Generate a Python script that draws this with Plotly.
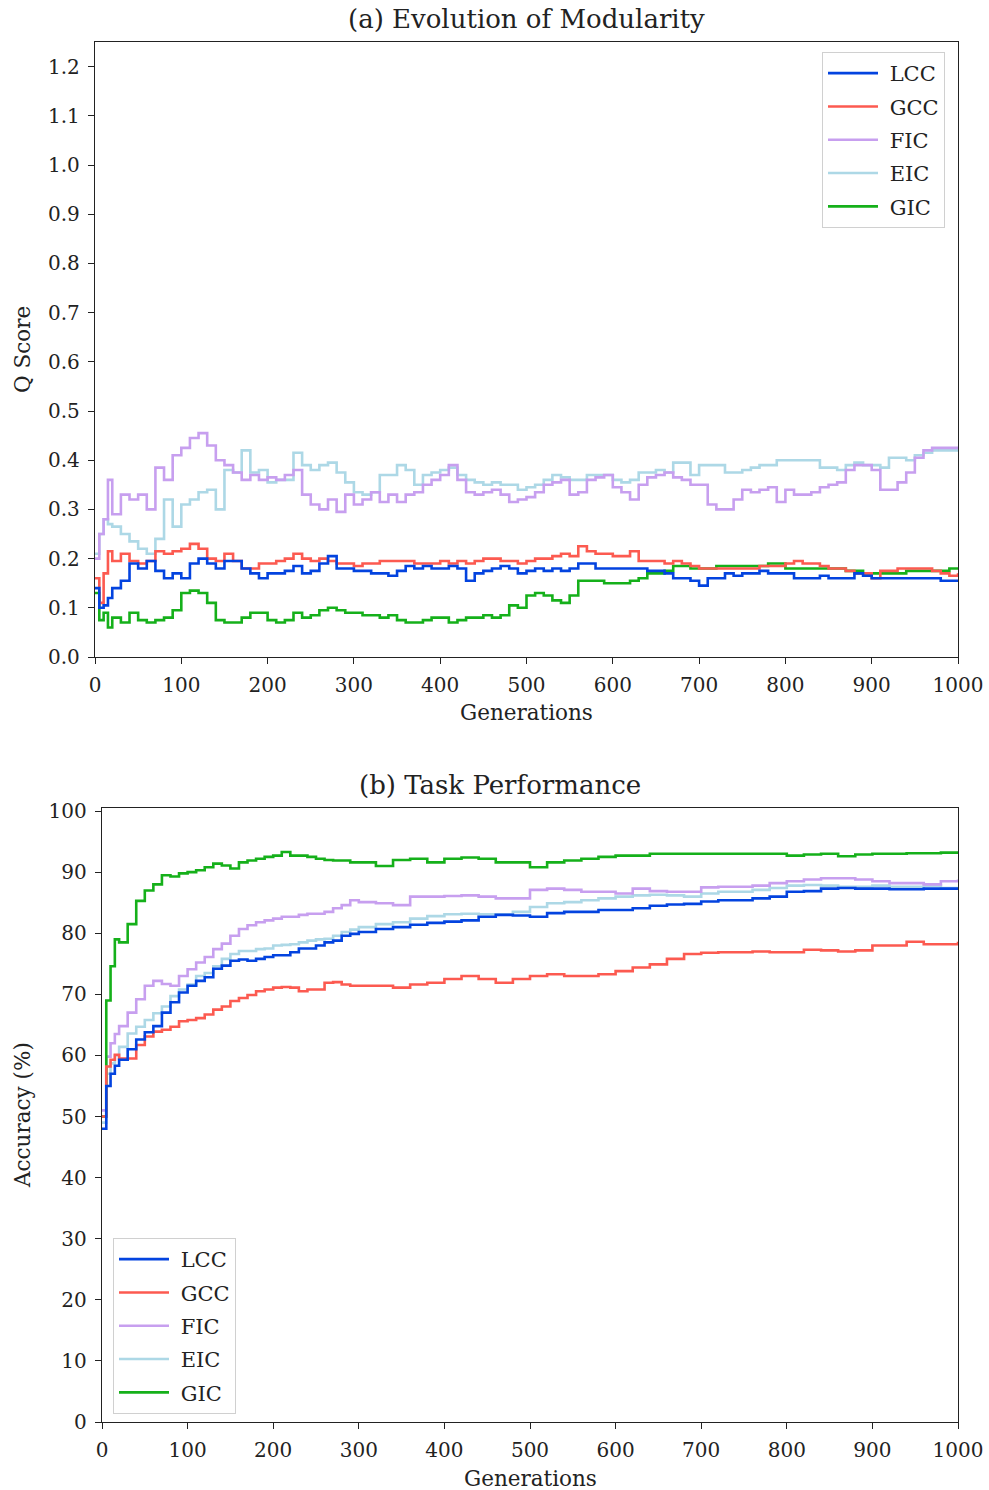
import plotly.graph_objects as go

# Generations sampled for each panel
GEN_A = [0, 5, 10, 15, 20] + list(range(30, 1001, 10))
GEN_B = [0, 5, 10, 15, 20] + list(range(30, 301, 10)) + list(range(320, 1001, 20))

# (a) Modularity Q score per method
LCC_A = [0.14, 0.10, 0.105, 0.12, 0.14,
         0.155, 0.19, 0.18, 0.195, 0.175, 0.16, 0.17, 0.16, 0.19, 0.20,
         0.19, 0.18, 0.195, 0.195, 0.18, 0.17, 0.16, 0.17, 0.17, 0.175,
         0.185, 0.17, 0.175, 0.19, 0.205, 0.18, 0.18, 0.175, 0.175, 0.17,
         0.17, 0.165, 0.175, 0.185, 0.18, 0.185, 0.18, 0.18, 0.185, 0.18,
         0.155, 0.17, 0.175, 0.18, 0.185, 0.18, 0.17, 0.175, 0.18, 0.175,
         0.18, 0.175, 0.18, 0.19, 0.19, 0.18, 0.18, 0.18, 0.18, 0.18,
         0.18, 0.175, 0.175, 0.17, 0.16, 0.16, 0.155, 0.145, 0.16, 0.16,
         0.17, 0.165, 0.17, 0.17, 0.175, 0.17, 0.17, 0.17, 0.16, 0.16,
         0.16, 0.165, 0.16, 0.16, 0.16, 0.17, 0.165, 0.16, 0.16, 0.16,
         0.16, 0.16, 0.16, 0.16, 0.16, 0.155, 0.155, 0.155]
GCC_A = [0.16, 0.11, 0.17, 0.215, 0.195,
         0.21, 0.195, 0.19, 0.195, 0.215, 0.21, 0.215, 0.22, 0.23, 0.22,
         0.20, 0.195, 0.21, 0.195, 0.18, 0.18, 0.19, 0.19, 0.195, 0.20,
         0.21, 0.20, 0.195, 0.20, 0.195, 0.19, 0.19, 0.185, 0.19, 0.19,
         0.195, 0.195, 0.195, 0.195, 0.19, 0.19, 0.19, 0.195, 0.19, 0.195,
         0.19, 0.195, 0.20, 0.20, 0.195, 0.195, 0.19, 0.195, 0.20, 0.20,
         0.205, 0.21, 0.205, 0.225, 0.215, 0.21, 0.21, 0.205, 0.205, 0.215,
         0.195, 0.195, 0.195, 0.19, 0.195, 0.19, 0.185, 0.18, 0.18, 0.18,
         0.18, 0.18, 0.18, 0.18, 0.185, 0.185, 0.185, 0.19, 0.195, 0.19,
         0.19, 0.185, 0.18, 0.18, 0.175, 0.17, 0.17, 0.16, 0.175, 0.175,
         0.18, 0.18, 0.18, 0.18, 0.175, 0.17, 0.165, 0.17]
FIC_A = [0.20, 0.25, 0.28, 0.36, 0.29,
         0.33, 0.32, 0.33, 0.30, 0.385, 0.36, 0.41, 0.425, 0.445, 0.455,
         0.43, 0.40, 0.39, 0.375, 0.36, 0.37, 0.36, 0.365, 0.36, 0.37,
         0.38, 0.33, 0.31, 0.30, 0.32, 0.295, 0.33, 0.31, 0.32, 0.335,
         0.315, 0.33, 0.315, 0.33, 0.335, 0.35, 0.36, 0.37, 0.39, 0.36,
         0.335, 0.33, 0.335, 0.34, 0.33, 0.315, 0.32, 0.325, 0.335, 0.35,
         0.355, 0.36, 0.33, 0.335, 0.36, 0.365, 0.37, 0.345, 0.335, 0.32,
         0.35, 0.365, 0.37, 0.375, 0.365, 0.36, 0.35, 0.35, 0.31, 0.30,
         0.30, 0.32, 0.34, 0.335, 0.34, 0.345, 0.315, 0.34, 0.33, 0.33,
         0.335, 0.345, 0.35, 0.355, 0.38, 0.39, 0.39, 0.38, 0.34, 0.34,
         0.355, 0.375, 0.405, 0.42, 0.425, 0.425, 0.425, 0.425]
EIC_A = [0.21, 0.25, 0.28, 0.27, 0.265,
         0.25, 0.235, 0.22, 0.21, 0.24, 0.32, 0.265, 0.31, 0.32, 0.335,
         0.34, 0.30, 0.38, 0.375, 0.42, 0.375, 0.38, 0.355, 0.36, 0.36,
         0.415, 0.39, 0.38, 0.39, 0.395, 0.375, 0.355, 0.335, 0.33, 0.335,
         0.37, 0.37, 0.39, 0.38, 0.35, 0.37, 0.375, 0.38, 0.385, 0.37,
         0.36, 0.355, 0.35, 0.355, 0.35, 0.35, 0.34, 0.345, 0.35, 0.36,
         0.37, 0.365, 0.36, 0.36, 0.37, 0.37, 0.37, 0.36, 0.355, 0.36,
         0.375, 0.375, 0.38, 0.375, 0.395, 0.395, 0.37, 0.39, 0.39, 0.39,
         0.375, 0.375, 0.38, 0.385, 0.39, 0.39, 0.40, 0.40, 0.40, 0.40,
         0.40, 0.385, 0.385, 0.38, 0.39, 0.395, 0.39, 0.39, 0.385, 0.405,
         0.405, 0.40, 0.41, 0.415, 0.42, 0.42, 0.42, 0.42]
GIC_A = [0.13, 0.075, 0.09, 0.06, 0.08,
         0.07, 0.09, 0.075, 0.07, 0.075, 0.08, 0.095, 0.13, 0.135, 0.13,
         0.11, 0.075, 0.07, 0.07, 0.08, 0.09, 0.09, 0.075, 0.07, 0.075,
         0.09, 0.08, 0.085, 0.095, 0.10, 0.095, 0.09, 0.09, 0.085, 0.085,
         0.08, 0.085, 0.075, 0.07, 0.07, 0.075, 0.08, 0.08, 0.07, 0.075,
         0.08, 0.08, 0.085, 0.08, 0.085, 0.105, 0.10, 0.125, 0.13, 0.125,
         0.115, 0.11, 0.125, 0.155, 0.155, 0.155, 0.15, 0.15, 0.15, 0.155,
         0.16, 0.17, 0.17, 0.175, 0.185, 0.185, 0.18, 0.18, 0.18, 0.185,
         0.185, 0.185, 0.185, 0.185, 0.185, 0.19, 0.19, 0.18, 0.18, 0.18,
         0.18, 0.18, 0.18, 0.18, 0.175, 0.175, 0.17, 0.17, 0.17, 0.17,
         0.17, 0.175, 0.175, 0.175, 0.175, 0.175, 0.18, 0.18]

# (b) Task accuracy (%) per method
LCC_B = [48, 55, 57, 58.3, 59.3,
         61, 62.6, 63.8, 64.8, 67, 68.7, 70.3, 71.4, 72.2, 72.8,
         74.2, 74.7, 75.5, 75.7, 75.5, 75.8, 76.1, 76.4, 76.4, 76.9,
         77.5, 77.5, 78, 78.5, 78.8, 79.6, 79.9, 80.2,
         80.7, 81, 81.4, 81.7, 81.9, 82.1, 82.7, 83, 82.9, 82.7,
         83.3, 83.5, 83.5, 83.8, 83.8, 84.1, 84.5, 84.7, 84.8, 85.2,
         85.4, 85.4, 85.7, 86, 86.8, 86.9, 87.3, 87.4, 87.3, 87.3,
         87.2, 87.2, 87.3, 87.3, 87.3]
GCC_B = [50, 58.2, 59.3, 60.1, 59.5,
         59.5, 61.7, 63.1, 63.9, 64.2, 64.7, 65.6, 65.8, 66.1, 66.7,
         67.5, 68, 68.9, 69.4, 69.9, 70.5, 70.8, 71.1, 71.2, 71.1,
         70.5, 70.8, 70.8, 71.9, 72, 71.6, 71.4, 71.4,
         71.4, 71.1, 71.6, 71.9, 72.5, 73, 72.5, 71.9, 72.5, 73,
         73.3, 73, 73, 73.3, 73.8, 74.4, 74.9, 75.8, 76.6, 76.8,
         76.9, 76.9, 77, 76.9, 76.9, 77.3, 77.2, 77, 77.2, 78,
         78, 78.6, 78.2, 78.2, 78.6]
FIC_B = [51, 59.8, 62, 63.5, 64.8,
         67, 69.2, 71.4, 72.2, 71.7, 71.4, 73, 74.1, 75.2, 76.1,
         77.4, 78.3, 79.6, 80.7, 81.3, 81.8, 82.1, 82.4, 82.7, 82.7,
         83, 83.2, 83.2, 83.5, 84.1, 84.6, 85.4, 85.1,
         84.9, 84.6, 86, 86, 86.1, 86.2, 86, 85.7, 85.7, 87.1,
         87.3, 87.1, 86.8, 86.8, 86.5, 87.3, 86.9, 86.8, 86.8, 87.5,
         87.6, 87.6, 87.8, 88.2, 88.5, 88.8, 89, 89, 88.8, 88.5,
         88.2, 88.2, 88, 88.5, 88.8]
EIC_B = [49, 57, 58.7, 60, 61.4,
         63.6, 64.7, 65.8, 66.9, 68, 69.7, 70.8, 71.6, 73, 73.5,
         74.6, 75.8, 76.6, 77.1, 77.1, 77.4, 77.5, 78, 78.1, 78.2,
         78.5, 78.8, 79, 79.1, 79.6, 80.2, 80.6, 81,
         81.5, 81.8, 82.4, 82.8, 83.1, 83.2, 83.1, 83.1, 83.5, 84.3,
         84.9, 85.1, 85.4, 85.7, 86, 86.2, 86.3, 86.2, 86, 86.5,
         86.8, 86.8, 87.1, 87.4, 87.8, 87.9, 87.8, 87.6, 87.6, 87.8,
         87.6, 87.6, 87.8, 87.4, 87.3]
GIC_B = [50, 69, 74.6, 79, 78.5,
         81.5, 85.3, 87, 88, 89.5, 89.3, 89.8, 90, 90.3, 90.8,
         91.4, 91.1, 90.6, 91.6, 91.9, 92.2, 92.5, 92.7, 93.3, 92.7,
         92.7, 92.5, 92.2, 92, 91.9, 91.9, 91.6, 91.6,
         91, 92, 92.2, 91.6, 92.2, 92.4, 92.2, 91.6, 91.6, 90.8,
         91.6, 91.9, 92.2, 92.5, 92.7, 92.7, 93, 93, 93, 93,
         93, 93, 93, 93, 92.7, 92.9, 93, 92.6, 92.9, 93,
         93, 93.1, 93.1, 93.2, 93.2]

NAMES = ["LCC", "GCC", "FIC", "EIC", "GIC"]
COLORS = ["#0343df", "#fc5a50", "#c79fef", "#add8e6", "#15b01a"]

FONT = "DejaVu Serif"
INK = "#222"
W, H = 989, 1490
PAD = "\u00a0"  # small gap between legend swatch and label

fig = go.Figure()

series_a = [LCC_A, GCC_A, FIC_A, EIC_A, GIC_A]
series_b = [LCC_B, GCC_B, FIC_B, EIC_B, GIC_B]

# draw order: light lines underneath, bold ones on top
order = [3, 2, 4, 1, 0]
for i in order:
    fig.add_trace(go.Scatter(
        x=GEN_A, y=series_a[i], mode="lines", name=PAD + NAMES[i],
        line=dict(color=COLORS[i], width=2.6, shape="hv"),
        xaxis="x", yaxis="y", legend="legend",
        legendgroup="a" + NAMES[i], legendrank=i + 1,
    ))
for i in order:
    fig.add_trace(go.Scatter(
        x=GEN_B, y=series_b[i], mode="lines", name=PAD + NAMES[i],
        line=dict(color=COLORS[i], width=2.6, shape="hv"),
        xaxis="x2", yaxis="y2", legend="legend2",
        legendgroup="b" + NAMES[i], legendrank=i + 1,
    ))


def px_x(p):
    # pixel column -> paper fraction
    return p / W


def px_y(p):
    return 1 - p / H


axis_common = dict(
    showline=True, linecolor=INK, linewidth=1.4, mirror=True,
    ticks="outside", ticklen=6, tickwidth=1.3, tickcolor=INK,
    ticklabelstandoff=4, ticklabeloverflow="allow", automargin=False,
    showgrid=False, zeroline=False,
    tickfont=dict(family=FONT, size=20, color=INK),
)

legend_common = dict(
    bgcolor="white", bordercolor="#d0d0d0", borderwidth=1,
    font=dict(family=FONT, size=21, color=INK),
    traceorder="grouped", tracegroupgap=3, itemwidth=50,
)

fig.update_layout(
    width=W, height=H,
    margin=dict(l=0, r=0, t=0, b=0, autoexpand=False),
    paper_bgcolor="white", plot_bgcolor="white",
    xaxis=dict(domain=[px_x(95), px_x(958)], range=[0, 1000], dtick=100,
               anchor="y", **axis_common),
    yaxis=dict(domain=[px_y(657), px_y(42)], range=[0, 1.25],
               tickvals=[i / 10 for i in range(13)], tickformat=".1f",
               anchor="x", **axis_common),
    xaxis2=dict(domain=[px_x(102), px_x(958)], range=[0, 1000], dtick=100,
                anchor="y2", **axis_common),
    yaxis2=dict(domain=[px_y(1422), px_y(808)], range=[0, 100.5],
                tickvals=list(range(0, 101, 10)),
                anchor="x2", **axis_common),
    legend=dict(x=px_x(945), y=px_y(52), xanchor="right", yanchor="top",
                **legend_common),
    legend2=dict(x=px_x(113), y=px_y(1238), xanchor="left", yanchor="top",
                 **legend_common),
    showlegend=True,
)

annots = [
    dict(text="(a) Evolution of Modularity", x=px_x(526), y=px_y(19), size=26),
    dict(text="(b) Task Performance", x=px_x(500), y=px_y(785), size=26),
    dict(text="Generations", x=px_x(526), y=px_y(713), size=21.5),
    dict(text="Generations", x=px_x(530), y=px_y(1478), size=21.5),
]
for a in annots:
    fig.add_annotation(text=a["text"], x=a["x"], y=a["y"], xref="paper", yref="paper",
                       xanchor="center", yanchor="middle", showarrow=False,
                       font=dict(family=FONT, size=a["size"], color=INK))
fig.add_annotation(text="Q Score", x=px_x(22), y=px_y(350), xref="paper", yref="paper",
                   xanchor="center", yanchor="middle", showarrow=False, textangle=-90,
                   font=dict(family=FONT, size=21.5, color=INK))
fig.add_annotation(text="Accuracy (%)", x=px_x(22), y=px_y(1115), xref="paper", yref="paper",
                   xanchor="center", yanchor="middle", showarrow=False, textangle=-90,
                   font=dict(family=FONT, size=21.5, color=INK))

fig.write_html("out.html")
